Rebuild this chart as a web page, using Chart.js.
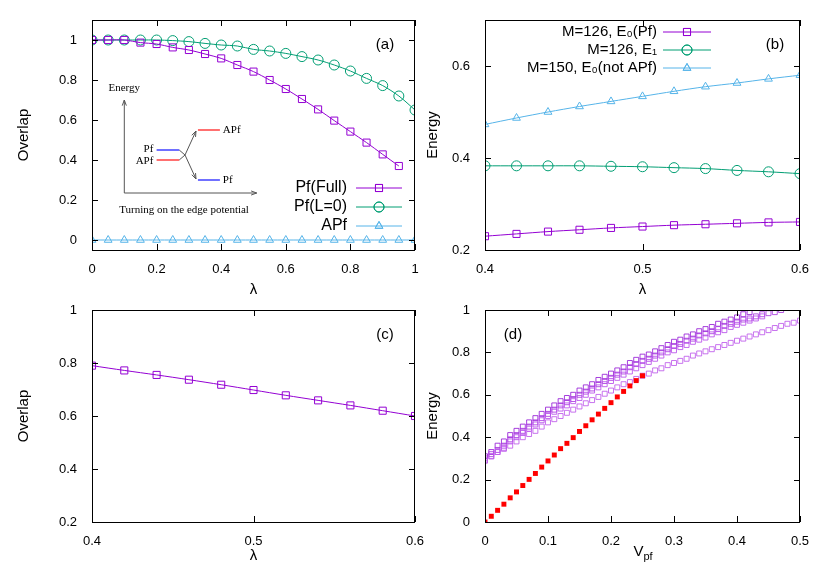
<!DOCTYPE html>
<html><head><meta charset="utf-8">
<script src="https://cdn.jsdelivr.net/npm/chart.js@4/dist/chart.umd.min.js"></script>
<style>
body{margin:0;background:#fff;width:830px;height:581px;position:relative;overflow:hidden}
canvas{position:absolute}
</style></head><body>
<canvas id="cc" width="430" height="291" style="left:0;top:290px"></canvas>
<canvas id="cd" width="415" height="291" style="left:415px;top:290px"></canvas>
<canvas id="ca" width="430" height="300" style="left:0;top:0"></canvas>
<canvas id="cb" width="415" height="300" style="left:415px;top:0"></canvas>
<script>
// ---- panel (a) ----
const lambdaA = [0,0.05,0.1,0.15,0.2,0.25,0.3,0.35,0.4,0.45,0.5,0.55,0.6,0.65,0.7,0.75,0.8,0.85,0.9,0.95,1.0];
const pfFull = [1,1,1,0.987,0.98,0.963,0.95,0.93,0.908,0.875,0.842,0.80,0.755,0.705,0.653,0.597,0.542,0.487,0.428,0.37];
const pfL0 = [1,1,1,1,1,0.997,0.992,0.983,0.975,0.97,0.953,0.945,0.933,0.917,0.9,0.875,0.845,0.808,0.772,0.72,0.65];
const apf = [0,0,0,0,0,0,0,0,0,0,0,0,0,0,0,0,0,0,0,0,0];
const ticksA_x = [0,0.2,0.4,0.6,0.8,1];
const ticksA_y = [0,0.2,0.4,0.6,0.8,1];

// ---- panel (b) ----
const lambdaB = [0.4,0.42,0.44,0.46,0.48,0.5,0.52,0.54,0.56,0.58,0.6];
const e0Pf = [0.230,0.235,0.240,0.244,0.248,0.251,0.254,0.256,0.258,0.260,0.261];
const e1 = [0.383,0.383,0.383,0.383,0.382,0.381,0.379,0.377,0.373,0.370,0.366];
const e0NotApf = [0.473,0.487,0.500,0.512,0.523,0.534,0.545,0.555,0.563,0.572,0.580];
const ticksB_x = [0.4,0.5,0.6];
const ticksB_y = [0.2,0.4,0.6];

// ---- panel (c) ----
const overlapC = [0.79,0.772,0.755,0.737,0.718,0.698,0.678,0.659,0.64,0.62,0.60];
const ticksC_y = [0.2,0.4,0.6,0.8,1];

// ---- panel (d) ----
const vStep = 0.01;
const redLine = [0,0.027,0.055,0.084,0.114,0.142,0.172,0.201,0.229,0.259,0.288,0.316,0.346,0.371,0.398,0.427,0.454,0.482,0.509,0.536,0.563,0.590,0.616,0.642,0.667,0.69];
const purple1 = [0.31,0.33,0.36,0.38,0.41,0.43,0.45,0.47,0.49,0.51,0.53,0.55,0.57,0.585,0.60,0.62,0.635,0.65,0.67,0.685,0.70,0.715,0.73,0.75,0.765,0.78,0.79,0.805,0.82,0.835,0.85,0.86,0.875,0.885,0.90,0.91,0.92,0.935,0.945,0.955,0.965,0.98,0.99];
const purple2 = [0.30,0.32,0.34,0.36,0.39,0.41,0.43,0.45,0.47,0.49,0.51,0.53,0.55,0.565,0.58,0.60,0.615,0.63,0.65,0.665,0.68,0.695,0.71,0.73,0.745,0.76,0.77,0.785,0.80,0.815,0.83,0.84,0.855,0.865,0.88,0.89,0.90,0.91,0.925,0.935,0.945,0.955,0.96,0.97,0.98,0.985,0.99,1.0];
const purple3 = [0.29,0.31,0.33,0.35,0.38,0.40,0.42,0.44,0.46,0.48,0.50,0.52,0.535,0.55,0.57,0.585,0.60,0.62,0.635,0.65,0.665,0.68,0.695,0.71,0.725,0.74,0.755,0.77,0.785,0.80,0.81,0.825,0.835,0.85,0.86,0.87,0.885,0.895,0.905,0.92,0.93,0.94,0.95,0.96,0.97];
const purple4 = [0.29,0.31,0.33,0.345,0.36,0.38,0.40,0.415,0.43,0.45,0.47,0.485,0.50,0.515,0.53,0.545,0.56,0.575,0.59,0.605,0.62,0.635,0.65,0.66,0.675,0.69,0.70,0.715,0.725,0.74,0.75,0.76,0.77,0.785,0.795,0.805,0.815,0.825,0.835,0.845,0.855,0.865,0.875,0.885,0.895,0.905,0.915,0.925,0.935,0.94,0.95];
const ticksD_x = [0,0.1,0.2,0.3,0.4,0.5];
const ticksD_y = [0,0.2,0.4,0.6,0.8,1];

const PURPLE = '#9400d3', GREEN = '#009e73', CYAN = '#56b4e9';
const FONT = '"Liberation Sans", Arial, sans-serif';
Chart.defaults.font.family = FONT;
Chart.defaults.color = '#000';
Chart.defaults.animation = false;

function pts(xs, ys){ return ys.map((y, i) => ({x: xs[i], y: y})); }
function stepPts(ys){ return ys.map((y, i) => ({x: +(i * vStep).toFixed(2), y: y})); }
function fmt(v){ return String(+(+v).toFixed(2)); }

function series(label, data, color, style, r, line){
    return {label: label, data: data, borderColor: color, backgroundColor: 'rgba(0,0,0,0)',
        pointBorderColor: color, pointStyle: style, pointRadius: r, pointBorderWidth: 1,
        borderWidth: 1, showLine: line, tension: 0.3};
}

// frame, inward ticks, axis titles, panel label, custom legend
const deco = {
    id: 'deco',
    afterDraw(chart, args, o){
        const ctx = chart.ctx, a = chart.chartArea;
        ctx.save();
        ctx.strokeStyle = '#000'; ctx.lineWidth = 1;
        ctx.strokeRect(a.left + 0.5, a.top + 0.5, a.right - a.left - 1, a.bottom - a.top);
        ctx.beginPath();
        chart.scales.x.ticks.forEach(t => {
            const p = Math.round(chart.scales.x.getPixelForValue(t.value)) + 0.5;
            ctx.moveTo(p, a.bottom); ctx.lineTo(p, a.bottom - 6);
            ctx.moveTo(p, a.top); ctx.lineTo(p, a.top + 6);
        });
        chart.scales.y.ticks.forEach(t => {
            const p = Math.round(chart.scales.y.getPixelForValue(t.value)) + 0.5;
            ctx.moveTo(a.left, p); ctx.lineTo(a.left + 6, p);
            ctx.moveTo(a.right, p); ctx.lineTo(a.right - 6, p);
        });
        ctx.stroke();
        ctx.fillStyle = '#000';
        ctx.font = '15px ' + FONT;
        ctx.textAlign = 'center'; ctx.textBaseline = 'middle';
        ctx.fillText(o.tag, a.left + o.tagX, a.top + 25);
        // x title
        const mx = (a.left + a.right) / 2, ty = a.bottom + o.xTitleOff;
        if (o.xlab === 'Vpf') {
            ctx.font = '15px ' + FONT; ctx.textAlign = 'right';
            ctx.fillText('V', mx + 1, ty);
            ctx.font = '11px ' + FONT; ctx.textAlign = 'left';
            ctx.fillText('pf', mx + 1, ty + 5);
        } else {
            ctx.font = '15px ' + FONT;
            ctx.fillText(o.xlab, mx, ty);
        }
        // y title
        ctx.save();
        ctx.translate(o.yTitleX, (a.top + a.bottom) / 2);
        ctx.rotate(-Math.PI / 2);
        ctx.font = '15px ' + FONT; ctx.textAlign = 'center';
        ctx.fillText(o.ylab, 0, 0);
        ctx.restore();
        // legend
        if (o.legend) {
            const L = o.legend;
            chart.data.datasets.forEach((ds, i) => {
                const y = a.top + L.top + i * L.gap;
                ctx.font = L.font + 'px ' + FONT;
                ctx.textAlign = 'right'; ctx.fillStyle = '#000';
                ctx.fillText(ds.label, a.left + L.textRight, y);
                ctx.strokeStyle = ds.borderColor;
                ctx.beginPath();
                ctx.moveTo(a.left + L.lineL, y); ctx.lineTo(a.left + L.lineR, y);
                ctx.stroke();
                ctx.fillStyle = 'rgba(0,0,0,0)';
                Chart.helpers.drawPoint(ctx, {pointStyle: ds.pointStyle, radius: ds.pointRadius, borderWidth: 1},
                    a.left + (L.lineL + L.lineR) / 2, y);
                ctx.stroke();
            });
        }
        if (o.extra) o.extra(chart, ctx);
        ctx.restore();
    }
};

function arrow(ctx, x1, y1, x2, y2){
    ctx.beginPath(); ctx.moveTo(x1, y1); ctx.lineTo(x2, y2); ctx.stroke();
    const ang = Math.atan2(y2 - y1, x2 - x1), h = 6;
    ctx.beginPath();
    ctx.moveTo(x2 - h * Math.cos(ang - 0.35), y2 - h * Math.sin(ang - 0.35));
    ctx.lineTo(x2, y2);
    ctx.lineTo(x2 - h * Math.cos(ang + 0.35), y2 - h * Math.sin(ang + 0.35));
    ctx.stroke();
}

// inset level diagram in panel (a), placed in data units
function inset(chart, ctx){
    const X = v => chart.scales.x.getPixelForValue(v), Y = v => chart.scales.y.getPixelForValue(v);
    ctx.strokeStyle = '#555'; ctx.lineWidth = 1;
    arrow(ctx, X(0.1), Y(0.235), X(0.1), Y(0.70));
    arrow(ctx, X(0.1), Y(0.235), X(0.51), Y(0.235));
    ctx.beginPath();
    ctx.moveTo(X(0.27), Y(0.45)); ctx.lineTo(X(0.288), Y(0.425));
    ctx.moveTo(X(0.27), Y(0.40)); ctx.lineTo(X(0.288), Y(0.425));
    ctx.stroke();
    arrow(ctx, X(0.288), Y(0.425), X(0.322), Y(0.545));
    arrow(ctx, X(0.288), Y(0.425), X(0.322), Y(0.305));
    ctx.lineWidth = 1.5;
    [[0.2, 0.27, 0.45, '#4040ff'], [0.2, 0.27, 0.40, '#ff4040'], [0.328, 0.396, 0.55, '#ff4040'], [0.328, 0.396, 0.30, '#4040ff']]
        .forEach(s => { ctx.strokeStyle = s[3]; ctx.beginPath(); ctx.moveTo(X(s[0]), Y(s[2])); ctx.lineTo(X(s[1]), Y(s[2])); ctx.stroke(); });
    ctx.fillStyle = '#000';
    ctx.font = '11px "Liberation Serif", "DejaVu Serif", serif';
    ctx.textBaseline = 'middle';
    ctx.textAlign = 'center';
    ctx.fillText('Energy', X(0.1), Y(0.76));
    ctx.fillText('Turning on the edge potential', X(0.285), Y(0.15));
    ctx.textAlign = 'right';
    ctx.fillText('Pf', X(0.19), Y(0.455));
    ctx.fillText('APf', X(0.19), Y(0.395));
    ctx.textAlign = 'left';
    ctx.fillText('APf', X(0.405), Y(0.55));
    ctx.fillText('Pf', X(0.405), Y(0.30));
}

function axes(xmin, xmax, xt, ymin, ymax, yt, yW, xH){
    const tk = {font: {size: 13}, padding: 4, callback: fmt, autoSkip: false, maxRotation: 0};
    return {
        x: {type: 'linear', min: xmin, max: xmax, grid: {display: false}, border: {display: false},
            ticks: tk, afterBuildTicks: s => { s.ticks = xt.map(v => ({value: v})); },
            afterFit: s => { s.height = xH; }},
        y: {type: 'linear', min: ymin, max: ymax, grid: {display: false}, border: {display: false},
            ticks: {font: {size: 13}, padding: 7, callback: fmt, autoSkip: false},
            afterBuildTicks: s => { s.ticks = yt.map(v => ({value: v})); },
            afterFit: s => { s.width = yW; }}
    };
}

function make(id, datasets, sc, pad, decoOpts){
    new Chart(document.getElementById(id), {
        type: 'scatter',
        data: {datasets: datasets},
        options: {responsive: false, devicePixelRatio: 1, layout: {padding: pad},
            scales: sc,
            plugins: {legend: {display: false}, tooltip: {enabled: false}, deco: decoOpts}},
        plugins: [deco]
    });
}

make('ca', [
    series('Pf(Full)', pts(lambdaA, pfFull), PURPLE, 'rect', 5, true),
    series('Pf(L=0)', pts(lambdaA, pfL0), GREEN, 'circle', 5, true),
    series('APf', pts(lambdaA, apf), CYAN, 'triangle', 4.5, true)
], axes(0, 1, ticksA_x, -0.05, 1.1, ticksA_y, 92, 50), {top: 20, right: 15, left: 0, bottom: 0},
  {tag: '(a)', tagX: 293, xlab: 'λ', xTitleOff: 40, ylab: 'Overlap', yTitleX: 24,
   legend: {top: 168, gap: 19, font: 16, textRight: 255, lineL: 264, lineR: 310}, extra: inset});

make('cb', [
    series('M=126, E\u2080(Pf)', pts(lambdaB, e0Pf), PURPLE, 'rect', 5, true),
    series('M=126, E\u2081', pts(lambdaB, e1), GREEN, 'circle', 5, true),
    series('M=150, E\u2080(not APf)', pts(lambdaB, e0NotApf), CYAN, 'triangle', 4.5, true)
], axes(0.4, 0.6, ticksB_x, 0.2, 0.7, ticksB_y, 70, 50), {top: 20, right: 30, left: 0, bottom: 0},
  {tag: '(b)', tagX: 290, xlab: 'λ', xTitleOff: 40, ylab: 'Energy', yTitleX: 18,
   legend: {top: 12, gap: 18, font: 15, textRight: 172, lineL: 178, lineR: 226}});

make('cc', [
    series('Pf', pts(lambdaB, overlapC), PURPLE, 'rect', 5, true)
], axes(0.4, 0.6, ticksB_x, 0.2, 1, ticksC_y, 92, 59), {top: 20, right: 15, left: 0, bottom: 0},
  {tag: '(c)', tagX: 293, xlab: 'λ', xTitleOff: 34, ylab: 'Overlap', yTitleX: 24});

function purp(ys, c){ return series('', stepPts(ys), c, 'rect', 3.5, false); }
make('cd', [
    {label: '', data: stepPts(redLine), pointStyle: 'rect', pointRadius: 3.5, backgroundColor: '#ff0000',
     pointBorderColor: '#ff0000', borderWidth: 0, showLine: false},
    purp(purple4, 'rgba(190,90,235,0.85)'),
    purp(purple3, 'rgba(185,80,235,0.85)'),
    purp(purple2, 'rgba(170,60,225,0.85)'),
    purp(purple1, 'rgba(150,30,215,0.85)')
], axes(0, 0.5, ticksD_x, 0, 1, ticksD_y, 70, 59), {top: 20, right: 30, left: 0, bottom: 0},
  {tag: '(d)', tagX: 28, xlab: 'Vpf', xTitleOff: 30, ylab: 'Energy', yTitleX: 18});
</script>
</body></html>
